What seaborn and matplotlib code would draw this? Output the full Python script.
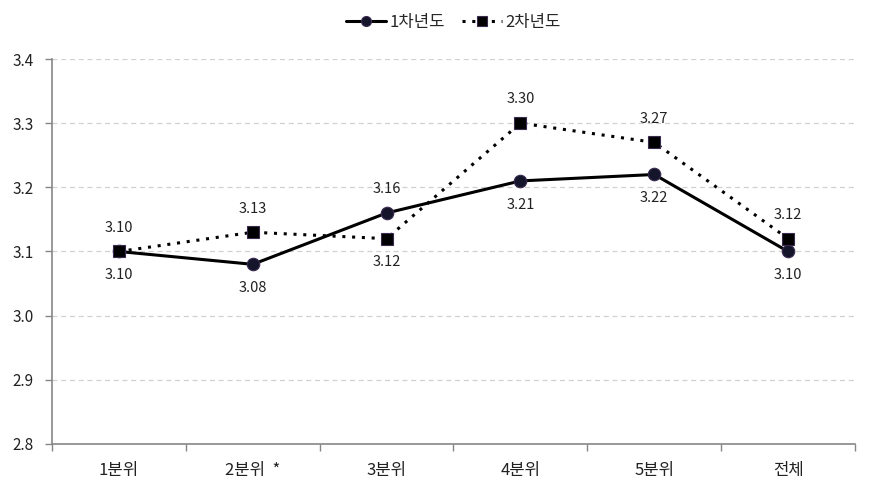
import matplotlib
matplotlib.use("Agg")
import matplotlib.pyplot as plt
import seaborn as sns
import pandas as pd
import numpy as np
from matplotlib.ticker import FixedLocator

categories = ["1분위", "2분위  *", "3분위", "4분위", "5분위", "전체"]
year1 = [3.10, 3.08, 3.16, 3.21, 3.22, 3.10]
year2 = [3.10, 3.13, 3.12, 3.30, 3.27, 3.12]
series_names = ["1차년도", "2차년도"]
y_ticks = [2.8, 2.9, 3.0, 3.1, 3.2, 3.3, 3.4]

sns.set_theme(style="white")
plt.rcParams['font.family'] = ['Noto Sans CJK KR', 'DejaVu Sans']

df = pd.DataFrame({
    "pos": list(range(len(categories))) * 2,
    "value": year1 + year2,
    "series": [series_names[0]] * len(categories) + [series_names[1]] * len(categories),
})

fig = plt.figure(figsize=(8.71, 4.93), dpi=100)
ax = fig.add_axes([52/871, 49/493, (855-52)/871, (444-59)/493])

sns.lineplot(data=df, x="pos", y="value", hue="series", style="series",
             palette={series_names[0]: "black", series_names[1]: "black"},
             dashes={series_names[0]: "", series_names[1]: (1, 2.2)},
             markers={series_names[0]: "o", series_names[1]: "s"},
             markersize=9, linewidth=2.2, markeredgecolor="#3a2a50",
             markeredgewidth=0.8, ax=ax, legend=True)
for line in ax.get_lines():
    if line.get_marker() == "o":
        line.set_markerfacecolor("#14142a")
    elif line.get_marker() == "s":
        line.set_markerfacecolor("black")

ax.set_xlim(-0.5, len(categories) - 0.5)
ax.set_ylim(2.8, 3.4)
ax.set_yticks(y_ticks)
ax.set_yticklabels([f"{t:.1f}" for t in y_ticks], fontsize=11, color="#222222")
ax.set_xticks(range(len(categories)))
ax.set_xticklabels(categories, fontsize=12, color="#222222")
ax.xaxis.set_minor_locator(FixedLocator(np.arange(-0.5, len(categories), 1.0)))
ax.tick_params(axis="x", which="major", length=0, pad=13)
ax.tick_params(axis="x", which="minor", length=5, color="#868686", width=1, bottom=True)
ax.tick_params(axis="y", which="major", length=5, color="#868686", width=1, left=True, pad=8)
ax.set_xlabel("")
ax.set_ylabel("")

for y in y_ticks[1:]:
    ax.axhline(y, color="#d0d0d0", linestyle=(0, (4, 3)), linewidth=0.9, zorder=0)

for s in ["top", "right"]:
    ax.spines[s].set_visible(False)
for s in ["left", "bottom"]:
    ax.spines[s].set_color("#868686")
    ax.spines[s].set_linewidth(1.2)

# value labels
for i, (a, b) in enumerate(zip(year1, year2)):
    hi, lo = (a, b) if a > b else (b, a)
    ax.annotate(f"{hi:.2f}", (i, hi), xytext=(0, 12), textcoords="offset points",
                ha="center", va="bottom", fontsize=10.5, color="#222222")
    ax.annotate(f"{lo:.2f}", (i, lo), xytext=(0, -12), textcoords="offset points",
                ha="center", va="top", fontsize=10.5, color="#222222")

handles, labels = ax.get_legend_handles_labels()
ax.legend(handles, labels, loc="center", bbox_to_anchor=(0.5, 1.0 + 37/385),
          ncol=2, frameon=False, fontsize=12, handlelength=2.4, columnspacing=1.0,
          handletextpad=0.2, markerscale=0.8)

fig.savefig("out.png", dpi=100)
